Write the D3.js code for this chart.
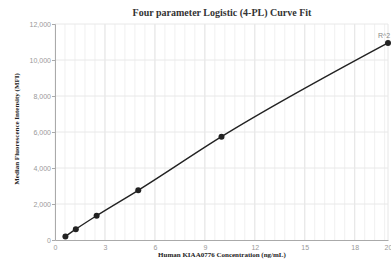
<!DOCTYPE html>
<html><head><meta charset="utf-8">
<script src="https://cdn.jsdelivr.net/npm/d3@7"></script>
<style>body{margin:0;background:#fff}svg{display:block}</style>
</head><body><svg id="c" width="391" height="271"></svg>
<script>
const concentrations = [0.625, 1.25, 2.5, 5, 10, 20];
const mfiValues = [200, 600, 1350, 2760, 5740, 10950];
const xTicks = [0, 3, 6, 9, 12, 15, 18, 20];
const yTicks = [0, 2000, 4000, 6000, 8000, 10000, 12000];
const titleText = "Four parameter Logistic (4-PL) Curve Fit";
const xLabel = "Human KIAA0776 Concentration (ng/mL)";
const yLabel = "Median Fluorescence Intensity (MFI)";

const svg = d3.select("#c");
const x = d3.scaleLinear().domain([0, 20]).range([55, 388]);
const y = d3.scaleLinear().domain([0, 12000]).range([240, 24]);

// minor vertical grid
const minor = d3.range(0, 20.001, 0.6);
svg.append("g").selectAll("line").data(minor).join("line")
  .attr("x1", d => x(d)).attr("x2", d => x(d)).attr("y1", 24).attr("y2", 240)
  .attr("stroke", "#f0f0f0").attr("stroke-width", 1);
svg.append("g").selectAll("line").data(xTicks.slice(1)).join("line")
  .attr("x1", d => x(d)).attr("x2", d => x(d)).attr("y1", 24).attr("y2", 240)
  .attr("stroke", "#e6e6e6").attr("stroke-width", 1);
svg.append("g").selectAll("line").data(yTicks.slice(1)).join("line")
  .attr("x1", 55).attr("x2", 388).attr("y1", d => y(d)).attr("y2", d => y(d))
  .attr("stroke", "#e8e8e8").attr("stroke-width", 1);

// axes
const yAxis = d3.axisLeft(y).tickValues(yTicks).tickSize(3).tickFormat(d3.format(","));
const gy = svg.append("g").attr("transform", "translate(55,0)").call(yAxis);
gy.select(".domain").attr("stroke", "#aaa");
gy.selectAll(".tick line").attr("stroke", "#aaa");
gy.selectAll("text").attr("fill", "#999").attr("font-size", 7).attr("font-family", "Arial, 'Liberation Sans', sans-serif").attr("x", -4);

const xAxis = d3.axisBottom(x).tickValues(xTicks).tickSize(0).tickFormat(d3.format("d"));
const gx = svg.append("g").attr("transform", "translate(0,240)").call(xAxis);
gx.select(".domain").attr("stroke", "#aaa");
gx.selectAll("text").attr("fill", "#999").attr("font-size", 7).attr("font-family", "Arial, 'Liberation Sans', sans-serif").attr("y", 5);

// curve
const pts = concentrations.map((c, i) => [c, mfiValues[i]]);
const line = d3.line().x(d => x(d[0])).y(d => y(d[1])).curve(d3.curveMonotoneX);
svg.append("path").datum(pts).attr("d", line).attr("fill", "none")
  .attr("stroke", "#222").attr("stroke-width", 1.4);
svg.append("g").selectAll("circle").data(pts).join("circle")
  .attr("cx", d => x(d[0])).attr("cy", d => y(d[1])).attr("r", 3)
  .attr("fill", "#222");

// R^2 label
svg.append("text").attr("x", x(20) - 10).attr("y", y(mfiValues[5]) - 5)
  .attr("font-size", 7).attr("fill", "#888").attr("font-family", "Arial, 'Liberation Sans', sans-serif")
  .text("R^2");

// title & labels
svg.append("text").attr("x", 222).attr("y", 16).attr("text-anchor", "middle")
  .attr("font-family", "'Liberation Serif', 'Times New Roman', serif").attr("font-weight", "bold")
  .attr("font-size", 10).attr("fill", "#333").text(titleText);
svg.append("text").attr("x", 222).attr("y", 257).attr("text-anchor", "middle")
  .attr("font-family", "'Liberation Serif', 'Times New Roman', serif").attr("font-weight", "bold")
  .attr("font-size", 7).attr("fill", "#222").text(xLabel);
svg.append("text").attr("transform", "translate(19,129) rotate(-90)").attr("text-anchor", "middle")
  .attr("font-family", "'Liberation Serif', 'Times New Roman', serif").attr("font-weight", "bold")
  .attr("font-size", 7).attr("fill", "#222").text(yLabel);
</script></body></html>
